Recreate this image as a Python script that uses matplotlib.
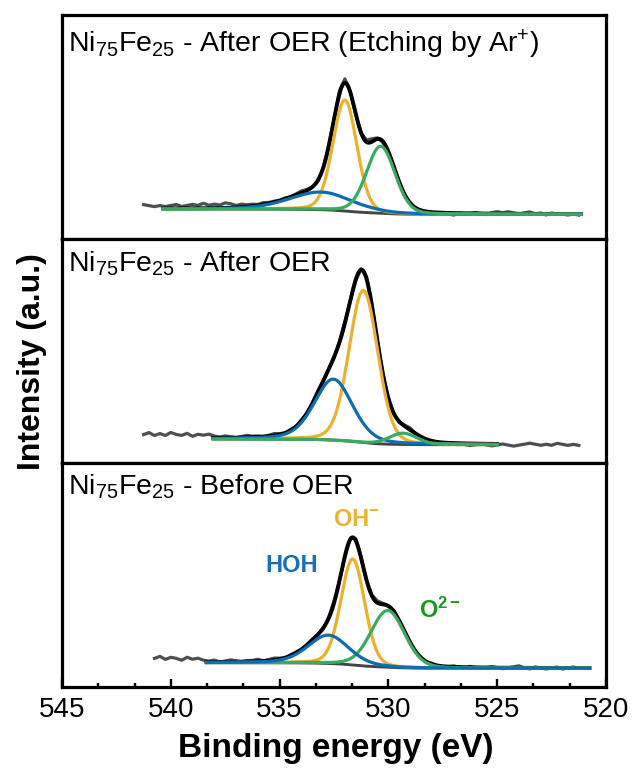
import numpy as np
import matplotlib
matplotlib.use('Agg')
import matplotlib.pyplot as plt
from matplotlib.ticker import MultipleLocator

plt.rcParams['font.family'] = ['Liberation Sans', 'DejaVu Sans']
plt.rcParams['mathtext.fontset'] = 'custom'
plt.rcParams['mathtext.rm'] = 'Liberation Sans'
plt.rcParams['mathtext.it'] = 'Liberation Sans:italic'
plt.rcParams['mathtext.bf'] = 'Liberation Sans:bold'
plt.rcParams['mathtext.default'] = 'regular'

# ---------------- data ----------------
panel_titles = [r'Ni$_{75}$Fe$_{25}$ - After OER (Etching by Ar$^{+}$)',
                r'Ni$_{75}$Fe$_{25}$ - After OER',
                r'Ni$_{75}$Fe$_{25}$ - Before OER']
component_names = ['HOH', 'OH-', 'O2-']

# fitted components: [HOH, OH-, O2-]
centers_top = [533.10, 532.00, 530.35]
heights_top = [17.6, 111.0, 67.0]
fwhm_top = [3.40, 1.30, 1.55]
centers_mid = [532.53, 531.15, 529.33]
heights_mid = [61.0, 152.0, 11.3]
fwhm_mid = [2.07, 1.56, 1.50]
centers_bot = [532.76, 531.64, 530.03]
heights_bot = [28.3, 106.0, 56.7]
fwhm_bot = [2.20, 1.29, 1.84]
lorentz_frac = [0.3, 0.15, 0.15]

# Shirley background end levels (high-BE side, low-BE side)
bg_high = [30.0, 24.0, 24.3]
bg_low = [24.7, 18.3, 18.7]
# fit windows (high BE, low BE)
fit_windows = [(540.35, 521.15), (538.06, 525.00), (538.36, 520.76)]
# measured spectra: first energy, last energy (0.25 eV step) and the deviation from the fit
exp_windows = [(541.25, 521.25), (541.25, 521.25), (540.75, 521.25)]
resid_top = [4, 3, 2, 3, 2, 3, 4, 2, 3, 4, 3, 5, 3, 4, 3, 5, 4, 2, 3, 2,
             2, 1, 2, 1, 1, 0, 1, 0, 1, 2, 1, 0, -1, 0, 2, 1, 3, 4, 1, -1,
             0, 2, 3, 1, -1, 0, 1, 0, -1, 0, -1, 0, -1, -2, -1, 0, -1, -2, 0, -1,
             0, 1, 0, -1, 1, 2, 1, 2, 1, 0, 1, 2, 0, 1, -1, 1, 0, 0, -1, 0, -1]
resid_mid = [4, 6, 3, 5, 3, 6, 4, 3, 5, 2, 4, 3, 4, 2,
             1, 2, 1, 0, 1, 2, 1, 1, 0, 1, 2, 1, 0, 1, 0, 1,
             0, 1, 2, 1, 0, -1, 1, 2, 0, -1, 1, 2, 0, -1, 0, 1, 0, -1, 1, 2, 0, -1,
             -1, 0, -1, -2, -1, 0, -1, -1, -2, -1, 0, -1, -2, -1, 0, -1, -2, -1, 0, 1,
             0, -1, 0, -1, 1, 0, -1, 0, -1]
resid_bot = [4, 6, 3, 5, 4, 2, 5, 3, 4, 2,
             1, 2, 0, 1, 2, 1, 0, 1, 1, 2, 0, 1, 2, 1, 0, 1, 1, 0,
             0, 1, 0, -1, 1, 2, 0, -1, 1, 2, 1, 0, 1, 2, 1, 0, 1, 0, 1, 0, -1, 0,
             0, 1, 0, -1, 0, 1, 0, -1, 1, 0, -1, 0, 1, 0, -1, 0, 1, 2, 0, -1, 1, 0,
             -1, 0, 1, -1, 0, 1, 0]

x_ticks = [545, 540, 535, 530, 525, 520]

# ---------------- styling ----------------
comp_colors = ['#0C6DB3', '#EBB12E', '#3AAA63']
label_colors = ['#1670B8', '#EDB232', '#17991C']
draw_orders = [[1, 0, 2], [1, 0, 2], [1, 2, 0]]

panels = [
    (centers_top, heights_top, fwhm_top, resid_top),
    (centers_mid, heights_mid, fwhm_mid, resid_mid),
    (centers_bot, heights_bot, fwhm_bot, resid_bot),
]

step = 0.01
E = 541.5 - step * np.arange(2101)


def pseudo_voigt(x, c, h, w, eta):
    u = 4 * ((x - c) / w) ** 2
    return h * ((1 - eta) * np.exp(-np.log(2) * u) + eta / (1 + u))


fig = plt.figure(figsize=(6.32, 7.72), dpi=100)
H = 224 / 772
bottoms = [1 - 239 / 772, 1 - 463 / 772, 1 - 687 / 772]
left, width = 62 / 632, 544 / 632
title_y = [0.832, 0.854, 0.860]

for k, (cen, hei, fw, res) in enumerate(panels):
    ax = fig.add_axes([left, bottoms[k], width, H])
    comps = [pseudo_voigt(E, cen[j], hei[j], fw[j], lorentz_frac[j]) for j in range(3)]
    total = comps[0] + comps[1] + comps[2]
    hi, lo = fit_windows[k]
    inwin = (E <= hi + 1e-9) & (E >= lo - 1e-9)
    s = np.where(inwin, total, 0.0)
    cum = np.cumsum(s[::-1])[::-1]
    bg = bg_low[k] + (bg_high[k] - bg_low[k]) * cum / cum.max()

    e0, e1 = exp_windows[k]
    n = int(round((e0 - e1) / 0.25)) + 1
    E_exp = e0 - 0.25 * np.arange(n)
    idx = np.round((541.5 - E_exp) / step).astype(int)
    exp_y = (bg + total)[idx] + np.array(res, dtype=float)

    ax.plot(E_exp, exp_y, color='#4F4F4F', lw=2.3, zorder=1)
    ax.plot(E[inwin], (bg + total)[inwin], color='black', lw=2.8, zorder=2)
    ax.plot(E[inwin], bg[inwin], color='#454545', lw=2.1, zorder=3)
    for zi, j in enumerate(draw_orders[k]):
        ax.plot(E[inwin], (bg + comps[j])[inwin], color=comp_colors[j], lw=2.3, zorder=4 + zi)

    ax.set_xlim(545, 520)
    ax.set_ylim(0, 224)
    ax.set_yticks([])
    for sp in ax.spines.values():
        sp.set_linewidth(2.3)
    ax.text(0.011, title_y[k], panel_titles[k], transform=ax.transAxes,
            fontsize=20.5, va='baseline', ha='left')
    if k < 2:
        ax.set_xticks([])
    else:
        ax.set_xticks(x_ticks)
        ax.xaxis.set_minor_locator(MultipleLocator(5 / 3))
        ax.tick_params(axis='x', which='major', direction='in', length=5.5, width=1.7,
                       labelsize=20, pad=7, top=False)
        ax.tick_params(axis='x', which='minor', direction='in', length=3, width=1.7, top=False)
        ax.text(534.44, 122, 'HOH', color=label_colors[0], fontsize=17, fontweight='bold',
                ha='center', va='center')
        ax.text(532.56, 167, r'OH$^{\mathbf{-}}$', color=label_colors[1], fontsize=17,
                fontweight='bold', ha='left', va='center')
        ax.text(528.58, 77, r'O$^{\mathbf{2-}}$', color=label_colors[2], fontsize=17,
                fontweight='bold', ha='left', va='center')

fig.text(336 / 632, 1 - 757 / 772, 'Binding energy (eV)', fontsize=24, fontweight='bold',
         ha='center', va='baseline')
fig.text(32 / 632, 1 - 362 / 772, 'Intensity (a.u.)', fontsize=23, fontweight='bold',
         ha='center', va='center', rotation=90)

fig.savefig('out.png', dpi=100)
